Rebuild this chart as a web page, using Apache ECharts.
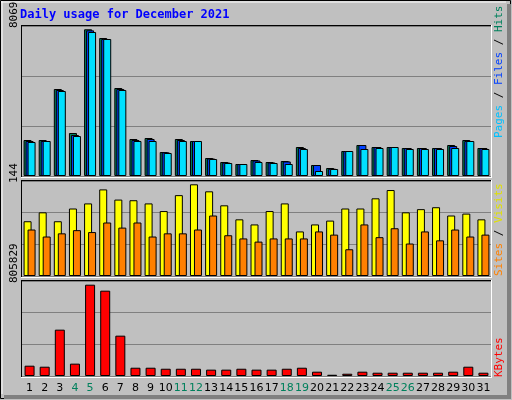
<!DOCTYPE html>
<html><head><meta charset="utf-8">
<script src="https://cdn.jsdelivr.net/npm/echarts@6/dist/echarts.min.js"></script>
<style>body{margin:0;background:#c0c0c0}#c{width:512px;height:400px}</style>
</head><body><div id="c"></div>
<script>
var days = [];
for (var d = 1; d <= 31; d++) days.push(String(d));
var weekend = ['4','5','11','12','18','19','25','26'];
var hits  = [1980,1980,4785,2365,8069,7590,4840,2035,2090,1320,2035,1925,990,770,660,880,770,825,1595,605,440,1375,1705,1595,1595,1540,1540,1540,1705,1980,1540];
var files = [1925,1925,4730,2255,8010,7535,4785,1980,2035,1300,1980,1925,960,740,660,850,740,800,1540,605,400,1375,1705,1595,1595,1540,1540,1540,1650,1925,1540];
var pages = [1870,1925,4675,2200,7920,7535,4730,1925,1925,1265,1925,1925,935,715,660,770,715,660,1485,275,385,1375,1485,1540,1595,1485,1485,1485,1540,1925,1485];
var visits = [86,100,86,106,114,136,120,119,114,102,127,144,133,111,89,81,102,114,70,81,87,106,106,122,135,100,105,108,95,98,89];
var sites  = [73,62,67,72,69,84,76,84,62,67,67,73,95,64,59,54,59,59,59,70,65,42,81,61,75,51,70,56,73,62,65];
var kbytes = [91000,82000,409000,109000,805829,753000,356000,73000,73000,64000,64000,64000,56000,56000,64000,56000,56000,64000,73000,38000,11000,20000,38000,29000,29000,29000,29000,29000,38000,82000,29000];

var L = 21, W = 470;
var max1 = 8250, max2 = 149.2, max3 = 838470;
var chart = echarts.init(document.getElementById('c'));
function yax(i, m) {
  return {gridIndex: i, min: 0, max: m, interval: m / 3,
    axisLabel: {show: false}, axisTick: {show: false}, axisLine: {show: false},
    splitLine: {lineStyle: {color: '#808080', width: 1}}};
}
function xax(i, lbl) {
  return {type: 'category', gridIndex: i, data: days, axisTick: {show: false},
    axisLine: {show: false},
    axisLabel: lbl ? {show: true, interval: 0, margin: 7, fontFamily: 'DejaVu Sans', fontSize: 11,
      formatter: function (v) { return weekend.indexOf(v) >= 0 ? '{g|' + v + '}' : '{k|' + v + '}'; },
      rich: {g: {color: '#00805c', fontSize: 11}, k: {color: '#000', fontSize: 11}}} : {show: false}};
}
var bs = {borderColor: '#000', borderWidth: 1};
function vline(x, y1, y2, c) { return {type: 'line', shape: {x1: x, y1: y1, x2: x, y2: y2}, style: {stroke: c, lineWidth: 1}}; }
function hline(y, x1, x2, c) { return {type: 'line', shape: {x1: x1, y1: y, x2: x2, y2: y}, style: {stroke: c, lineWidth: 1}}; }
function rtext(x, y, t, c, rich) {
  return {type: 'text', x: x, y: y, rotation: Math.PI / 2,
    style: {text: t, fill: c, font: '11px DejaVu Sans Mono', rich: rich, align: 'left', verticalAlign: 'middle'}};
}
var panels = [[25, 177], [180, 277], [280, 377]];
var gfx = [
  {type: 'rect', shape: {x: 0.5, y: 0.5, width: 510, height: 398}, style: {fill: 'none', stroke: '#000'}},
  hline(2, 1, 506, '#fff'), vline(2, 1, 394, '#fff'),
  {type: 'rect', shape: {x: 507, y: 4, width: 4, height: 395}, style: {fill: '#808080'}},
  {type: 'rect', shape: {x: 4, y: 395, width: 507, height: 4}, style: {fill: '#808080'}},
  {type: 'text', x: 20, y: 9, style: {text: 'Daily usage for December 2021', fill: '#0000ff', font: 'bold 12px DejaVu Sans Mono'}}
];
panels.forEach(function (p) {
  gfx.push(hline(p[0] + 0.5, L, L + W, '#000'), vline(L + 0.5, p[0], p[1], '#000'),
    hline(p[1] + 0.5, L, L + W + 1, '#fff'), vline(L + W + 0.5, p[0], p[1] + 1, '#fff'));
});
gfx.push(rtext(14, 28, '8069', '#000'), rtext(14, 183, '144', '#000'), rtext(14, 283, '805829', '#000'));
gfx.push({type: 'text', x: 494, y: 138, rotation: Math.PI / 2,
  style: {text: '{p|Pages}{s| / }{f|Files}{s| / }{h|Hits}', font: '11px DejaVu Sans Mono', verticalAlign: 'top',
    rich: {p: {fill: '#00c0ff', font: '11px DejaVu Sans Mono'}, f: {fill: '#0040ff', font: '11px DejaVu Sans Mono'},
      h: {fill: '#00805c', font: '11px DejaVu Sans Mono'}, s: {fill: '#000', font: '11px DejaVu Sans Mono'}}}});
gfx.push({type: 'text', x: 494, y: 276, rotation: Math.PI / 2,
  style: {text: '{a|Sites}{s| / }{b|Visits}', font: '11px DejaVu Sans Mono', verticalAlign: 'top',
    rich: {a: {fill: '#ff8000', font: '11px DejaVu Sans Mono'}, b: {fill: '#e0e000', font: '11px DejaVu Sans Mono'},
      s: {fill: '#000', font: '11px DejaVu Sans Mono'}}}});
gfx.push({type: 'text', x: 494, y: 377, rotation: Math.PI / 2,
  style: {text: 'KBytes', fill: '#ff0000', font: '11px DejaVu Sans Mono', verticalAlign: 'top'}});

chart.setOption({
  backgroundColor: '#c0c0c0',
  animation: false,
  grid: [
    {left: L + 1, width: W - 1, top: 26, height: 150},
    {left: L + 1, width: W - 1, top: 181, height: 95},
    {left: L + 1, width: W - 1, top: 281, height: 95}
  ],
  xAxis: [xax(0, false), xax(1, false), xax(2, true)],
  yAxis: [yax(0, max1), yax(1, max2), yax(2, max3)],
  series: [
    {type: 'bar', name: 'Hits', data: hits, xAxisIndex: 0, yAxisIndex: 0, barWidth: 8, barGap: '-75%', itemStyle: Object.assign({color: '#00805c'}, bs)},
    {type: 'bar', name: 'Files', data: files, xAxisIndex: 0, yAxisIndex: 0, barWidth: 8, barGap: '-75%', itemStyle: Object.assign({color: '#0040ff'}, bs)},
    {type: 'bar', name: 'Pages', data: pages, xAxisIndex: 0, yAxisIndex: 0, barWidth: 8, barGap: '-75%', itemStyle: Object.assign({color: '#00e0ff'}, bs)},
    {type: 'bar', name: 'Visits', data: visits, xAxisIndex: 1, yAxisIndex: 1, barWidth: 8, barGap: '-50%', itemStyle: Object.assign({color: '#ffff00'}, bs)},
    {type: 'bar', name: 'Sites', data: sites, xAxisIndex: 1, yAxisIndex: 1, barWidth: 8, barGap: '-50%', itemStyle: Object.assign({color: '#ff8000'}, bs)},
    {type: 'bar', name: 'KBytes', data: kbytes, xAxisIndex: 2, yAxisIndex: 2, barWidth: 10, itemStyle: Object.assign({color: '#ff0000'}, bs)}
  ],
  graphic: gfx
});
</script></body></html>
